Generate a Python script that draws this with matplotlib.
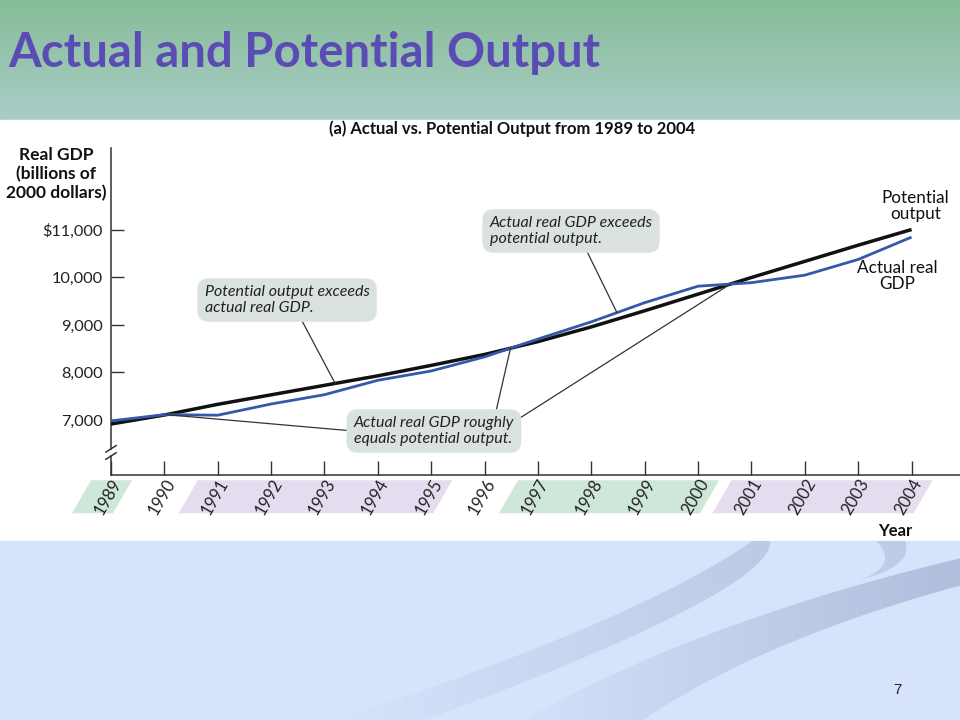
import numpy as np
import matplotlib
matplotlib.use('Agg')
import matplotlib.pyplot as plt
from matplotlib.patches import Polygon, Rectangle
from matplotlib.transforms import ScaledTranslation, blended_transform_factory

# data (billions of 2000 dollars)
years = list(range(1989, 2005))
actual = [6981, 7113, 7101, 7337, 7533, 7836, 8032, 8329, 8704, 9067, 9470, 9817, 9891, 10049, 10380, 10850]
potential = [6915, 7105, 7330, 7530, 7730, 7930, 8150, 8380, 8650, 8960, 9300, 9650, 10000, 10340, 10680, 11010]
y_ticks = [7000, 8000, 9000, 10000, 11000]
y_labels = ['7,000', '8,000', '9,000', '10,000', '$11,000']
# shaded bands under the year labels: (first year, last year, colour)
bands = [(1989, 1989, '#cfe7d8'), (1991, 1995, '#e5ddef'), (1997, 2000, '#cfe7d8'), (2001, 2004, '#e5ddef')]

plt.rcParams['font.family'] = ['Lato', 'DejaVu Sans']


def bez(p0, p1, p2, n=40):
    s = np.linspace(0, 1, n)[:, None]
    p0, p1, p2 = map(np.array, (p0, p1, p2))
    return (1 - s) ** 2 * p0 + 2 * (1 - s) * s * p1 + s ** 2 * p2


def swoosh(axb, pts, rgb, a0, a1, x0, x1):
    # gradient fill clipped to a polygon, fading towards the left
    poly = Polygon(pts, closed=True, fc='none', ec='none')
    axb.add_patch(poly)
    img = np.zeros((2, 200, 4))
    img[..., :3] = np.array(rgb)
    img[..., 3] = a0 + (a1 - a0) * np.linspace(0, 1, 200)
    im = axb.imshow(img, extent=[x0, x1, 720, 530], aspect='auto', zorder=1)
    im.set_clip_path(poly)


fig = plt.figure(figsize=(9.6, 7.2), dpi=100)

# slide background, in pixel units
bg = fig.add_axes([0, 0, 1, 1])
top = np.array([0x86, 0xbc, 0x98]) / 255
bot = np.array([0xa9, 0xcd, 0xc6]) / 255
t = np.linspace(0, 1, 120)[:, None, None]
grad = top + (bot - top) * t
bg.imshow(np.repeat(grad, 2, axis=1), extent=[0, 960, 120, 0], aspect='auto', zorder=0)
bg.add_patch(Rectangle((0, 120), 960, 421, color='white', zorder=0))
bg.add_patch(Rectangle((0, 541), 960, 179, color='#d6e3fb', zorder=0))

# decorative swooshes
up1 = bez((330, 722), (640, 620), (752, 541))
lo1 = bez((770, 541), (775, 590), (420, 722))
swoosh(bg, np.vstack([up1, lo1]), (0.70, 0.76, 0.87), 0.0, 0.75, 330, 780)
up2 = bez((520, 722), (700, 620), (962, 558))
lo2 = bez((962, 585), (760, 640), (640, 722))
swoosh(bg, np.vstack([up2, lo2]), (0.66, 0.72, 0.84), 0.05, 0.85, 520, 962)
up3 = bez((876, 541), (900, 565), (860, 580))
lo3 = bez((860, 580), (915, 565), (905, 541))
swoosh(bg, np.vstack([up3, lo3]), (0.70, 0.76, 0.87), 0.6, 0.7, 855, 915)
bg.set_xlim(0, 960)
bg.set_ylim(720, 0)
bg.axis('off')

fig.text(8 / 960, 1 - 53 / 720, 'Actual and Potential Output', fontsize=34,
         fontweight='bold', color='#5a4cb4', va='center', ha='left')
fig.text(512 / 960, 1 - 129 / 720, '(a) Actual vs. Potential Output from 1989 to 2004',
         fontsize=12, fontweight='bold', ha='center', va='center', color='#111')
fig.text(56 / 960, 1 - 174 / 720, 'Real GDP\n(billions of\n2000 dollars)', fontsize=12.5,
         fontweight='bold', ha='center', va='center', linespacing=1.2, color='#111')
fig.text(895 / 960, 1 - 531 / 720, 'Year', fontsize=12, fontweight='bold',
         ha='center', va='center', color='#111')
fig.text(897 / 960, 1 - 690 / 720, '7', fontsize=11, family='Liberation Sans',
         ha='center', va='center', color='#222')

# chart axes
ax = fig.add_axes([111 / 960, 1 - 475 / 720, 1 - 111 / 960, 327 / 720])
ax.patch.set_alpha(0)
ax.set_xlim(1989, 1989 + 849 / 53.37)
ax.set_ylim(7000 - 55 / 47.5 * 1000, 7000 + 272 / 47.5 * 1000)
for s in ['top', 'right', 'left']:
    ax.spines[s].set_visible(False)
ax.spines['bottom'].set_color('#333')
ax.spines['bottom'].set_linewidth(1.1)

# y axis with a break near the bottom
ax.plot([0, 0], [1, 0.08], transform=ax.transAxes, color='#333', lw=1.1, clip_on=False)
ax.plot([0, 0], [0.058, 0], transform=ax.transAxes, color='#333', lw=1.1, clip_on=False)
for f in (0.08, 0.058):
    ax.plot([-0.006, 0.006], [f - 0.01, f + 0.01], transform=ax.transAxes,
            color='#333', lw=1.1, clip_on=False)

ax.set_yticks(y_ticks)
ax.set_yticklabels(y_labels)
ax.tick_params(axis='y', direction='in', length=9, width=1, color='#333',
               labelsize=11.8, pad=6, labelcolor='#222')
ax.set_xticks(years)
ax.set_xticklabels([str(y) for y in years])
ax.tick_params(axis='x', direction='in', length=10, width=1, color='#333',
               labelsize=12, pad=4, labelcolor='#222')
off = ScaledTranslation(7 / 100, 0, fig.dpi_scale_trans)
for lab in ax.get_xticklabels():
    lab.set_rotation(60)
    lab.set_ha('right')
    lab.set_va('center')
    lab.set_rotation_mode('anchor')
    lab.set_transform(lab.get_transform() + off)

# bands behind the year labels
btr = blended_transform_factory(ax.transData, ax.transAxes)
px = 1 / 53.37
for y0, y1, c in bands:
    yt, yb = -0.016, -0.117
    x0, x1 = y0 - 20 * px, y1 + 21 * px
    sl = 19 * px
    ax.add_patch(Polygon([(x0, yt), (x1, yt), (x1 - sl, yb), (x0 - sl, yb)], closed=True,
                         transform=btr, color=c, lw=0, clip_on=False, zorder=0))

ax.plot(years, potential, color='#111', lw=2.5, solid_capstyle='butt', zorder=3)
ax.plot(years, actual, color='#3558a8', lw=2.0, solid_capstyle='butt', zorder=4)

ax.annotate('Potential\noutput', xy=(years[-1], potential[-1]), xytext=(3, 17),
            textcoords='offset points', ha='center', va='center', fontsize=12.3,
            linespacing=1.0, color='#111')
ax.annotate('Actual real\nGDP', xy=(years[-1], actual[-1]), xytext=(-10, -28),
            textcoords='offset points', ha='center', va='center', fontsize=12.3,
            linespacing=1.0, color='#111')

# where the two series cross
d = np.array(actual) - np.array(potential)
cross = []
for i in range(len(d) - 1):
    if np.sign(d[i]) != np.sign(d[i + 1]):
        f = d[i] / (d[i] - d[i + 1])
        cross.append((years[i] + f, potential[i] + f * (potential[i + 1] - potential[i])))

box = dict(boxstyle='round,pad=0.45,rounding_size=0.7', fc='#d9e2de', ec='none')
hidden = dict(boxstyle='round,pad=0.45,rounding_size=0.7', fc='none', ec='none')
line = dict(arrowstyle='-', color='#333', lw=0.9, shrinkA=0, shrinkB=0)
tkw = dict(fontsize=11.5, style='italic', color='#222', ha='center', va='center',
           multialignment='left', linespacing=1.1, textcoords='data', zorder=5)

x1 = 1993.2
ax.annotate('Potential output exceeds\nactual real GDP.', xy=(x1, np.interp(x1, years, potential)),
            xytext=(1992.30, 9526), bbox=box, arrowprops=dict(line, relpos=(0.57, 0)), **tkw)
x2 = 1998.48
ax.annotate('Actual real GDP exceeds\npotential output.', xy=(x2, np.interp(x2, years, actual)),
            xytext=(1997.62, 10979), bbox=box, arrowprops=dict(line, relpos=(0.58, 0)), **tkw)
txt3 = 'Actual real GDP roughly\nequals potential output.'
rel = [(0, 0.5), (0.88, 1), (1, 0.82)]
for k, (cx, cy) in enumerate(cross):
    kw = dict(tkw)
    if k < len(cross) - 1:
        kw['color'] = 'none'
        b = hidden
    else:
        b = box
    ax.annotate(txt3, xy=(cx, cy), xytext=(1995.05, 6768), bbox=b,
                arrowprops=dict(line, relpos=rel[k]), **kw)

fig.savefig('out.png', dpi=100)
